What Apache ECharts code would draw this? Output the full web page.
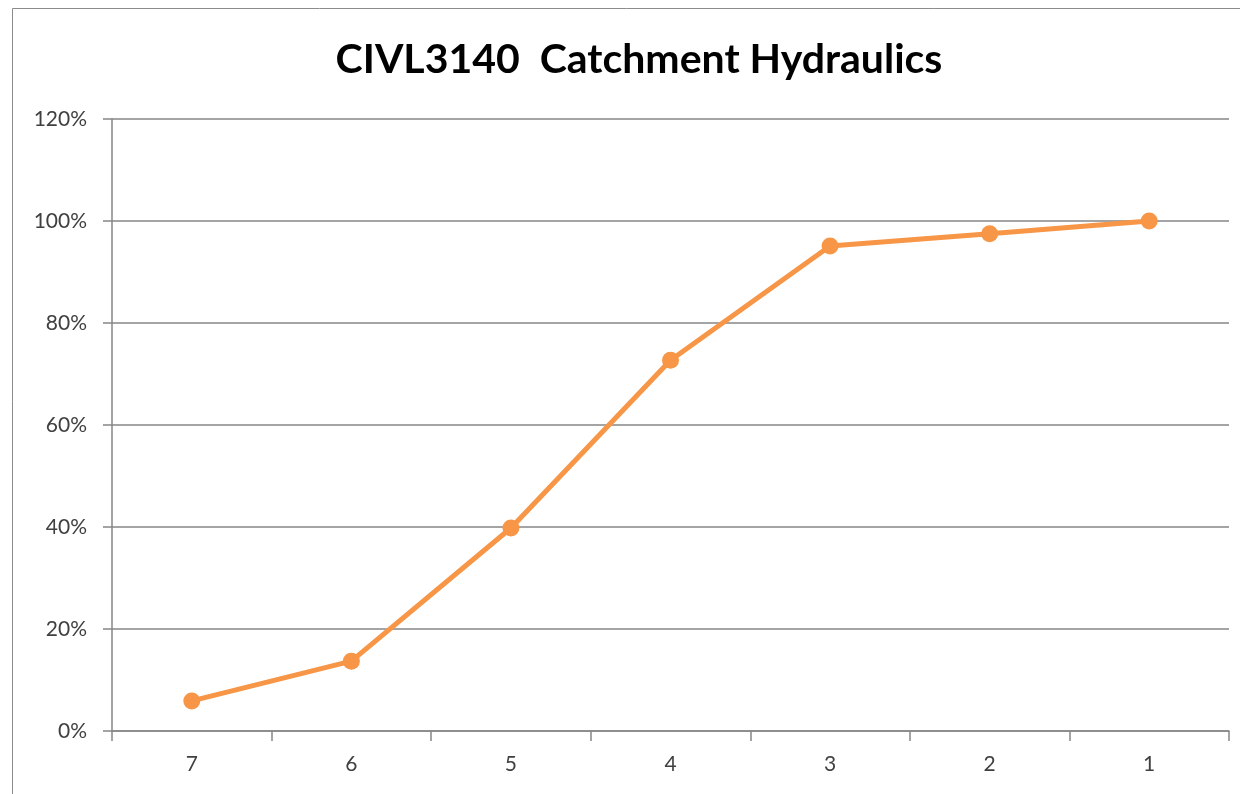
<!DOCTYPE html>
<html>
<head>
<meta charset="utf-8">
<script src="https://cdn.jsdelivr.net/npm/echarts@6/dist/echarts.min.js"></script>
<style>
  html, body { margin: 0; padding: 0; background: #fff; }
  #main { width: 1240px; height: 794px; }
</style>
</head>
<body>
<div id="main"></div>
<script>
// 数据
var categories = ['7', '6', '5', '4', '3', '2', '1'];
var values = [0.059, 0.137, 0.398, 0.727, 0.951, 0.975, 1.0];
var yTicks = [0, 0.2, 0.4, 0.6, 0.8, 1.0, 1.2];

var chart = echarts.init(document.getElementById('main'));
var option = {
  backgroundColor: '#fff',
  animation: false,
  title: {
    text: 'CIVL3140  Catchment Hydraulics',
    left: 634,
    top: 34,
    textAlign: 'center',
    textStyle: { fontFamily: 'Lato', fontWeight: 'bold', fontSize: 41, color: '#000' }
  },
  graphic: [{
    type: 'rect',
    shape: { x: 12.5, y: 8.5, width: 1260, height: 820 },
    style: { fill: 'none', stroke: '#8c8c8c', lineWidth: 1 }
  }],
  grid: { left: 112, right: 11, top: 119, bottom: 63 },
  xAxis: {
    type: 'category',
    data: categories,
    boundaryGap: true,
    axisLine: { lineStyle: { color: '#868686', width: 1.5 } },
    axisTick: { show: true, length: 10, lineStyle: { color: '#868686', width: 1.5 } },
    axisLabel: { margin: 23, fontFamily: 'Lato', fontSize: 21, color: '#404040' }
  },
  yAxis: {
    type: 'value',
    min: yTicks[0],
    max: yTicks[yTicks.length - 1],
    interval: 0.2,
    axisLine: { show: true, lineStyle: { color: '#868686', width: 1.5 } },
    axisTick: { show: true, length: 9, lineStyle: { color: '#868686', width: 1.5 } },
    splitLine: { lineStyle: { color: '#868686', width: 1.5 } },
    axisLabel: {
      margin: 25,
      fontFamily: 'Lato', fontSize: 21, color: '#404040',
      formatter: function (v) { return Math.round(v * 100) + '%'; }
    }
  },
  series: [{
    type: 'line',
    data: values,
    symbol: 'circle',
    symbolSize: 17,
    itemStyle: { color: '#F79646' },
    lineStyle: { color: '#F79646', width: 5 }
  }]
};
chart.setOption(option);
</script>
</body>
</html>
